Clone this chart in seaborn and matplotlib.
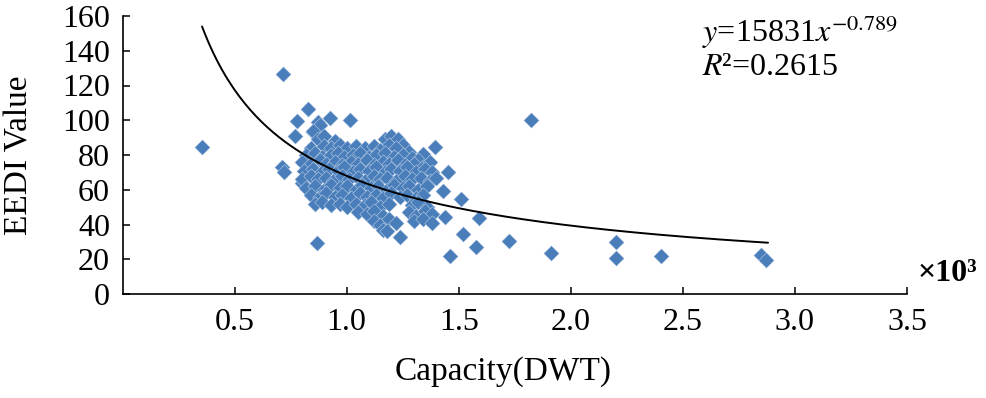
import numpy as np
import pandas as pd
import matplotlib.pyplot as plt
import seaborn as sns

sns.set_style('ticks')
plt.rcParams['font.family'] = ['Liberation Serif', 'DejaVu Serif']
plt.rcParams['mathtext.fontset'] = 'stix'
plt.rcParams['text.color'] = 'black'
plt.rcParams['axes.labelcolor'] = 'black'

# capacity in 10^3 DWT, EEDI value
outlier_x = [0.354, 0.715, 0.826, 0.777, 0.768, 0.71, 0.72, 0.866, 0.80, 1.824,
             1.396, 1.45, 1.432, 1.512, 1.592, 1.441, 1.517, 1.575, 1.459, 1.726,
             1.913, 2.203, 2.203, 2.403, 2.848, 2.871, 1.236, 0.924, 1.013, 0.871,
             0.849, 1.34]
outlier_y = [84.6, 126.6, 106.5, 99.6, 90.9, 73.0, 70.0, 29.4, 63.9, 100.1,
             84.6, 70.2, 59.3, 54.7, 43.7, 44.3, 34.5, 27.1, 21.9, 30.5,
             23.6, 29.9, 20.7, 21.9, 22.4, 19.6, 32.8, 101.3, 100.1, 99.0,
             93.2, 80.5]

cluster_x = [0.88, 0.85, 0.87, 0.90, 0.95, 1.17, 1.20, 1.23, 1.19, 1.25,
             0.84, 0.90, 0.93, 0.97, 1.00, 1.04, 1.08, 1.12, 1.15, 1.22, 1.28,
             0.82, 0.86, 0.89, 0.93, 0.96, 0.99, 1.03, 1.06, 1.10, 1.13, 1.17, 1.21, 1.25, 1.29, 1.32,
             0.80, 0.84, 0.88, 0.91, 0.95, 0.98, 1.02, 1.05, 1.09, 1.12, 1.16, 1.19, 1.23, 1.26, 1.30, 1.34, 1.37,
             0.81, 0.85, 0.89, 0.92, 0.96, 0.99, 1.03, 1.06, 1.10, 1.13, 1.17, 1.20, 1.24, 1.27, 1.31, 1.35, 1.38,
             0.80, 0.84, 0.87, 0.91, 0.94, 0.98, 1.01, 1.05, 1.08, 1.12, 1.15, 1.18, 1.22, 1.26, 1.29, 1.33, 1.37, 1.40,
             0.82, 0.86, 0.90, 0.93, 0.97, 1.00, 1.04, 1.07, 1.11, 1.14, 1.18, 1.21, 1.25, 1.28, 1.32, 1.36,
             0.84, 0.88, 0.91, 0.95, 0.98, 1.02, 1.06, 1.09, 1.13, 1.16, 1.20, 1.24, 1.27, 1.31, 1.34,
             0.86, 0.89, 0.93, 0.97, 1.00, 1.04, 1.08, 1.11, 1.15, 1.19, 1.29, 1.32, 1.36,
             1.05, 1.09, 1.12, 1.16, 1.28, 1.31, 1.35, 1.38,
             1.12, 1.15, 1.19, 1.22, 1.30, 1.34, 1.38,
             1.16, 1.18]
cluster_y = [97, 94, 89, 91, 88, 89, 91, 89, 86, 86,
             84, 85, 84, 86, 84, 85, 84, 85, 83, 84, 82,
             80, 81, 79, 80, 81, 79, 80, 81, 79, 80, 81, 79, 80, 78, 77,
             76, 75, 77, 75, 76, 74, 76, 75, 77, 74, 76, 75, 77, 74, 75, 73, 76,
             71, 72, 70, 72, 71, 73, 70, 72, 71, 73, 70, 72, 71, 73, 70, 72, 70,
             66, 68, 66, 67, 65, 68, 66, 67, 65, 68, 66, 67, 65, 68, 66, 67, 65, 67,
             61, 62, 60, 63, 61, 62, 60, 63, 61, 62, 60, 63, 61, 62, 60, 62,
             57, 56, 58, 56, 57, 55, 58, 56, 57, 55, 58, 56, 57, 55, 57,
             52, 53, 51, 52, 50, 52, 51, 53, 50, 52, 51, 53, 50,
             47, 46, 48, 45, 47, 45, 48, 46,
             42, 40, 43, 41, 42, 43, 41,
             37, 36]

# fitted power trend shown on the chart: y = 15831 x^-0.789 (x in DWT)
fit_a = 15831
fit_b = -0.789
fit_range = [0.355, 2.88]

df = pd.DataFrame({'cap': outlier_x + cluster_x, 'eedi': outlier_y + cluster_y})
fit_x = np.linspace(fit_range[0], fit_range[1], 200)
fit_y = fit_a * (fit_x * 1000) ** fit_b

fig = plt.figure(figsize=(9.86, 3.98), dpi=100)
ax = fig.add_axes([122.5 / 986, 1 - 294 / 398, 784.5 / 986, 278 / 398])

sns.scatterplot(data=df, x='cap', y='eedi', marker='D', s=62, color='#4A7EBB',
                edgecolor='#DCE6F2', linewidth=0.3, ax=ax, zorder=2)
sns.lineplot(x=fit_x, y=fit_y, color='black', linewidth=1.4, ax=ax, zorder=3)

ax.set_xlim(0, 3.5)
ax.set_ylim(0, 160)
ax.set_xticks([0.5, 1.0, 1.5, 2.0, 2.5, 3.0, 3.5])
ax.set_xticklabels(['0.5', '1.0', '1.5', '2.0', '2.5', '3.0', '3.5'])
ax.set_yticks(range(0, 161, 20))
ax.tick_params(direction='in', length=5, width=1.1, labelsize=23, colors='black')
ax.tick_params(axis='x', pad=10)
ax.tick_params(axis='y', pad=9)
sns.despine(ax=ax)
for s in ['left', 'bottom']:
    ax.spines[s].set_linewidth(1.2)
    ax.spines[s].set_color('black')

ax.set_xlabel('Capacity(DWT)', fontsize=24)
ax.set_ylabel('EEDI Value', fontsize=24)
ax.xaxis.set_label_coords(0.485, -0.225)
ax.yaxis.set_label_coords(-0.112, 0.5)

fig.text(0.712, 0.894, r'$y$=15831$x^{-0.789}$', fontsize=23, va='baseline')
fig.text(0.712, 0.812, '$R$²=0.2615', fontsize=23, va='baseline')
fig.text(0.931, 0.294, '×10³', fontsize=23, fontweight='bold', va='baseline')

fig.savefig('out.png', dpi=100)
